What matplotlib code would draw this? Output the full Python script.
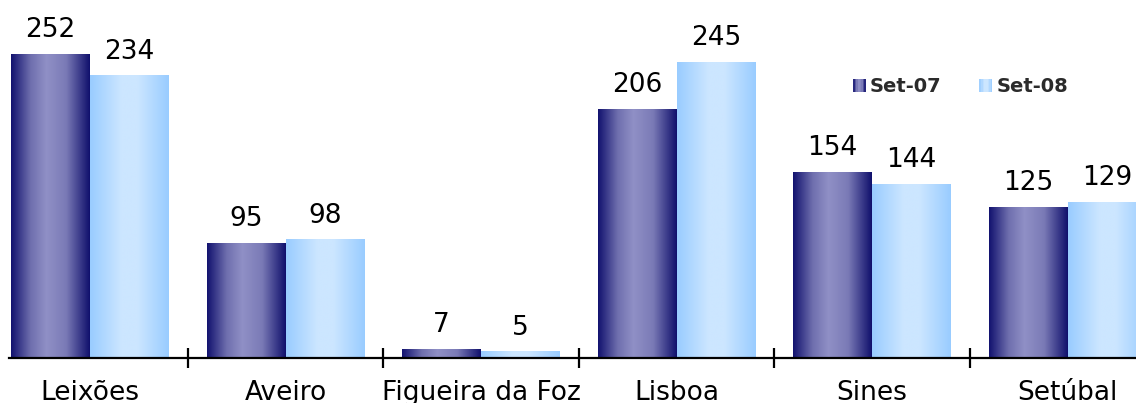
import numpy as np
import matplotlib
matplotlib.use("Agg")
import matplotlib.pyplot as plt
from matplotlib.colors import LinearSegmentedColormap
from matplotlib.legend_handler import HandlerBase
from matplotlib.patches import Rectangle

categories = ["Leixões", "Aveiro", "Figueira da Foz", "Lisboa", "Sines", "Setúbal"]
set07 = [252, 95, 7, 206, 154, 125]
set08 = [234, 98, 5, 245, 144, 129]
series_names = ["Set-07", "Set-08"]

cmap07 = LinearSegmentedColormap.from_list(
    "c07", [(0.0, "#12126f"), (0.25, "#6f6fae"), (0.45, "#9090c6"),
            (0.7, "#7a7ab6"), (1.0, "#10106c")])
cmap08 = LinearSegmentedColormap.from_list(
    "c08", [(0.0, "#99ccff"), (0.4, "#cce6ff"), (0.6, "#cce6ff"), (1.0, "#99ccff")])

W, H = 1136, 403
fig = plt.figure(figsize=(W / 100, H / 100), dpi=100)
ax = fig.add_axes([9 / W, 45 / H, (W - 9) / W, 358 / H])

x = np.arange(len(categories))
bw = 0.404
b1 = ax.bar(x - bw / 2, set07, bw, color="none", linewidth=0)
b2 = ax.bar(x + bw / 2, set08, bw, color="none", linewidth=0)

grad = np.linspace(0, 1, 256).reshape(1, -1)
for bars, cm in ((b1, cmap07), (b2, cmap08)):
    for p in bars:
        x0, w, h = p.get_x(), p.get_width(), p.get_height()
        ax.imshow(grad, cmap=cm, extent=[x0, x0 + w, 0, h], aspect="auto",
                  interpolation="bilinear", zorder=2)

for bars, vals in ((b1, set07), (b2, set08)):
    for p, v in zip(bars, vals):
        ax.annotate(f"{v}", (p.get_x() + p.get_width() / 2, p.get_height()),
                    xytext=(0, 8), textcoords="offset points",
                    ha="center", va="bottom", fontsize=19, color="black")

x_left = (9 - 90) / 195.5
x_right = (W - 90) / 195.5
ax.set_xlim(x_left, x_right)
ax.set_ylim(0, 296.8)

for s in ("top", "right", "left"):
    ax.spines[s].set_visible(False)
ax.spines["bottom"].set_linewidth(1.6)
ax.set_yticks([])
ax.set_xticks(x)
ax.set_xticklabels(categories, fontsize=19)
ax.tick_params(axis="x", which="major", length=0, pad=16)
ax.set_xticks(x[:-1] + 0.5, minor=True)
ax.tick_params(axis="x", which="minor", direction="inout", length=14, width=1.6)


class GradHandler(HandlerBase):
    def __init__(self, cm):
        super().__init__()
        self.cm = cm

    def create_artists(self, legend, orig_handle, xdescent, ydescent, width,
                       height, fontsize, trans):
        n = 8
        side = min(width, height)
        x0 = -xdescent + width - side
        y0 = -ydescent + (height - side) / 2
        arts = []
        for i in range(n):
            r = Rectangle((x0 + side * i / n, y0), side / n, side,
                          facecolor=self.cm((i + 0.5) / n), edgecolor="none",
                          transform=trans)
            arts.append(r)
        return arts


h1 = Rectangle((0, 0), 1, 1)
h2 = Rectangle((0, 0), 1, 1)
leg = ax.legend([h1, h2], series_names, loc="upper left",
                bbox_to_anchor=(853 / W, (H - 77) / H), bbox_transform=fig.transFigure,
                ncol=2, frameon=False, handlelength=0.67, handletextpad=0.2,
                columnspacing=1.95, borderaxespad=0, borderpad=0,
                handler_map={h1: GradHandler(cmap07), h2: GradHandler(cmap08)},
                prop={"weight": "bold", "size": 14})
for t in leg.get_texts():
    t.set_color("#2b2b2b")

fig.savefig("out.png", dpi=100)
